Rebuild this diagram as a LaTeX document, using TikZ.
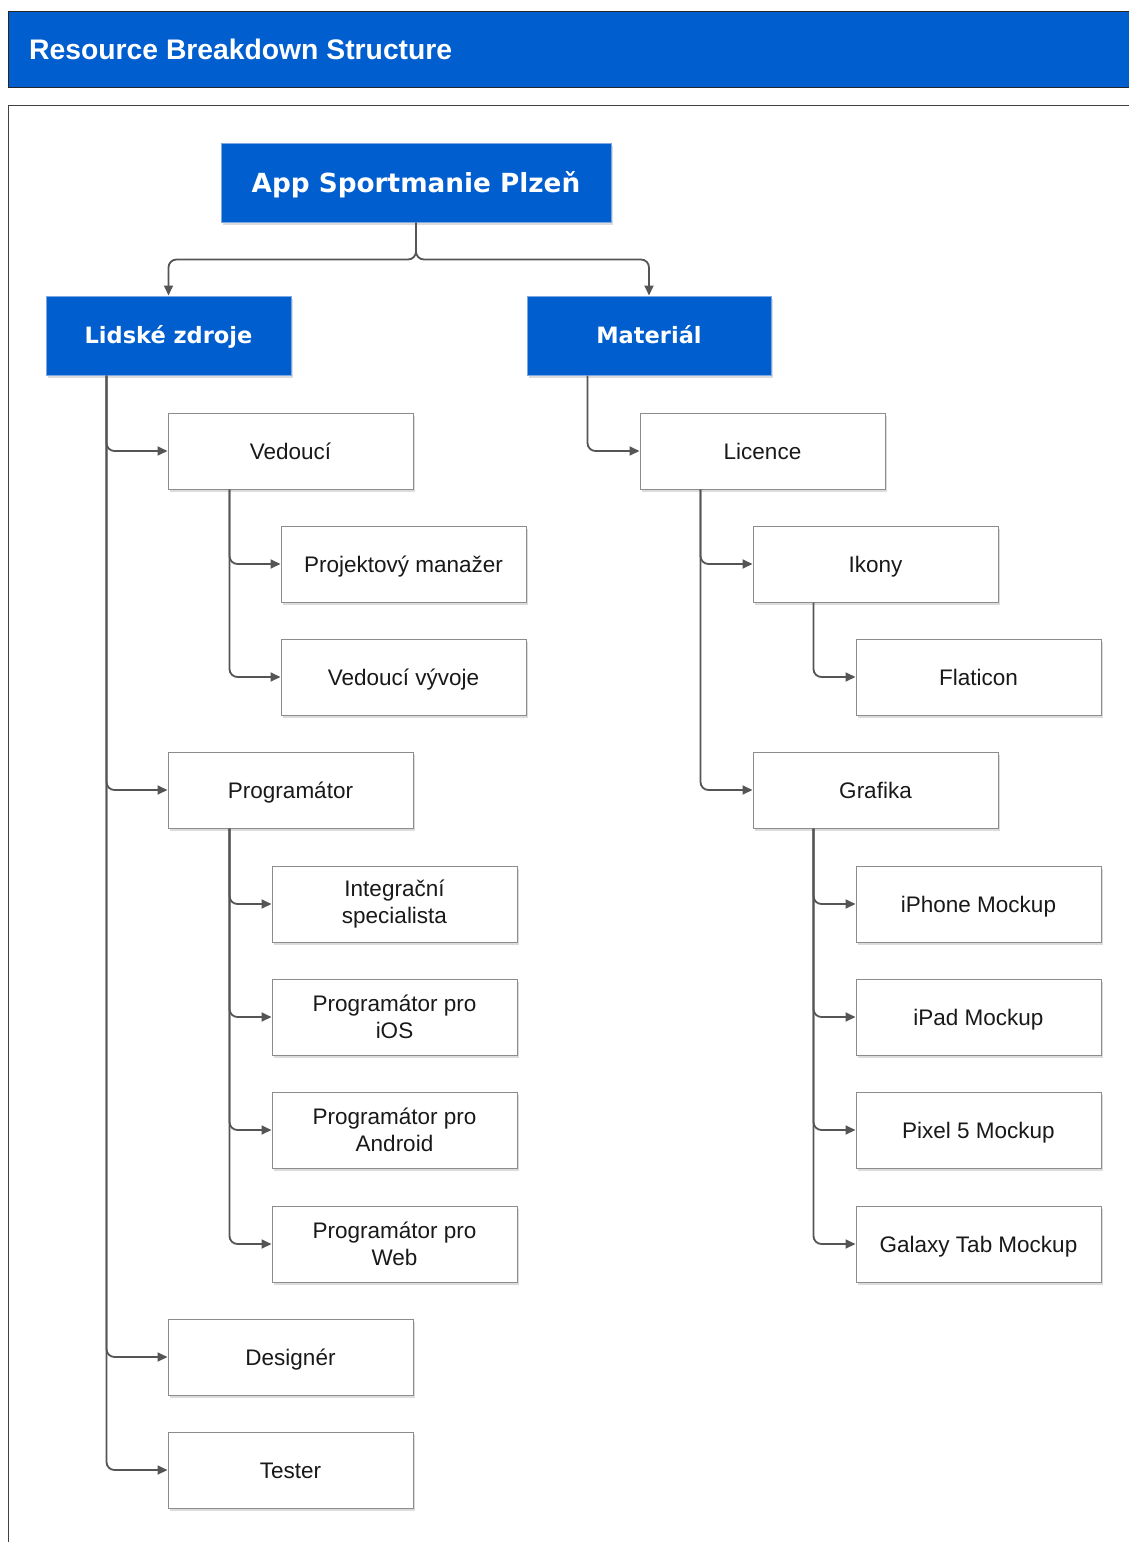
\documentclass[tikz,border=0pt]{standalone}
\usepackage{fontspec}
\setmainfont{Liberation Sans}
\newfontfamily\headfont{DejaVu Sans}
\usetikzlibrary{arrows.meta,shadows}
\definecolor{rbsblue}{HTML}{005ECE}
\definecolor{rbsedge}{HTML}{7EA6E0}
\definecolor{boxedge}{HTML}{8C8C8C}
\definecolor{linkgray}{HTML}{555555}
\begin{document}
\begin{tikzpicture}[x=1pt,y=-1pt,
  softshadow/.style={drop shadow={shadow xshift=2pt,shadow yshift=-2.5pt,fill=black!30,opacity=0.45}},
  bluebox/.style={rectangle,fill=rbsblue,draw=rbsedge,line width=1pt,inner sep=0pt,
    minimum height=79pt,text=white,text height=20pt,text depth=3.5pt,
    font=\headfont\bfseries\fontsize{22.5}{26}\selectfont,softshadow},
  itembox/.style={rectangle,fill=white,draw=boxedge,line width=1pt,inner sep=0pt,
    minimum width=245pt,minimum height=76pt,align=center,
    font=\fontsize{22.5}{27}\selectfont,text=black!90,softshadow},
  oneline/.style={itembox,text height=19.5pt,text depth=2pt},
  twoline/.style={itembox,execute at begin node={\rule{0pt}{25pt}}},
  conn/.style={draw=linkgray,line width=1.8pt,rounded corners=8pt,
    -{Triangle[length=10pt,width=9pt]}}]
\useasboundingbox (0,0) rectangle (1129,1542);

% heading band and frame
\fill[rbsblue] (8,11) rectangle (1129,87);
\draw[line width=1pt,black!85] (1129,11) -- (8,11) -- (8,87) -- (1129,87);
\node[anchor=west,text=white,inner sep=0pt,font=\bfseries\fontsize{28.3}{32}\selectfont] (title) at (29,49) {Resource Breakdown Structure};
\draw[line width=1pt,black!75] (1129,105) -- (8,105) -- (8,1542);

% top levels
\node[bluebox,minimum width=390pt,font=\headfont\bfseries\fontsize{26.3}{30}\selectfont,text height=22.5pt,text depth=3pt] (root) at (416,182.5) {App Sportmanie Plzeň};
\node[bluebox,minimum width=245pt] (lz) at (168.5,335.5) {Lidské zdroje};
\node[bluebox,minimum width=244pt] (mat) at (649,335.5) {Materiál};

% human resources
\node[oneline] (ved) at (290.5,451) {Vedoucí};
\node[oneline] (pm) at (403.5,564) {Projektový manažer};
\node[oneline] (vv) at (403.5,677) {Vedoucí vývoje};
\node[oneline] (prog) at (290.5,790) {Programátor};
\node[twoline] (int) at (394.5,904) {Integrační\\specialista};
\node[twoline] (ios) at (394.5,1017) {Programátor pro\\iOS};
\node[twoline] (andr) at (394.5,1130) {Programátor pro\\Android};
\node[twoline] (web) at (394.5,1244) {Programátor pro\\Web};
\node[oneline] (des) at (290.5,1357) {Designér};
\node[oneline] (test) at (290.5,1470) {Tester};

% material
\node[oneline] (lic) at (762.5,451) {Licence};
\node[oneline] (iko) at (875.5,564) {Ikony};
\node[oneline] (flat) at (978.5,677) {Flaticon};
\node[oneline] (graf) at (875.5,790) {Grafika};
\node[oneline] (iph) at (978.5,904) {iPhone Mockup};
\node[oneline] (ipad) at (978.5,1017) {iPad Mockup};
\node[oneline] (pix) at (978.5,1130) {Pixel 5 Mockup};
\node[oneline] (gal) at (978.5,1244) {Galaxy Tab Mockup};

% root split
\draw[conn] (root.south) -- ++(0,37) -| (lz.north);
\draw[conn] (root.south) -- ++(0,37) -| (mat.north);

% human resources links
\foreach \c in {ved,prog,des,test}
  \draw[conn] ([xshift=61pt]lz.south west) |- (\c.west);
\foreach \c in {pm,vv}
  \draw[conn] ([xshift=62pt]ved.south west) |- (\c.west);
\foreach \c in {int,ios,andr,web}
  \draw[conn] ([xshift=62pt]prog.south west) |- (\c.west);

% material links
\draw[conn] ([xshift=61pt]mat.south west) |- (lic.west);
\foreach \c in {iko,graf}
  \draw[conn] ([xshift=61pt]lic.south west) |- (\c.west);
\draw[conn] ([xshift=61pt]iko.south west) |- (flat.west);
\foreach \c in {iph,ipad,pix,gal}
  \draw[conn] ([xshift=61pt]graf.south west) |- (\c.west);
\end{tikzpicture}
\end{document}
